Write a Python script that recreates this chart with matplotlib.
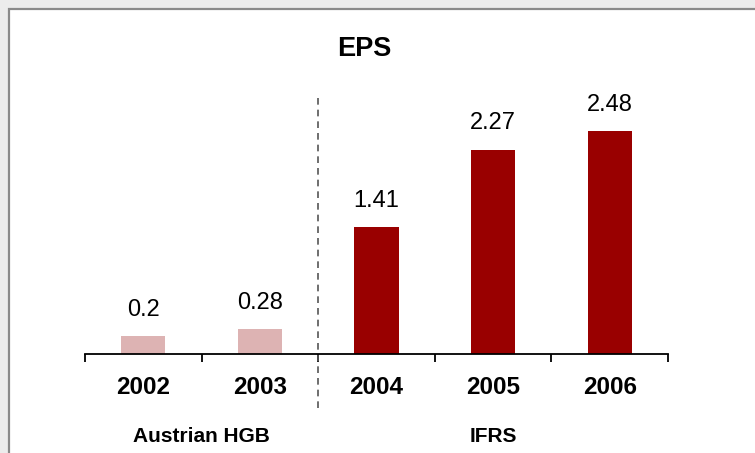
import matplotlib.pyplot as plt
from matplotlib.patches import Rectangle

years = ["2002", "2003", "2004", "2005", "2006"]
eps = [0.2, 0.28, 1.41, 2.27, 2.48]
labels = ["0.2", "0.28", "1.41", "2.27", "2.48"]
bar_colors = ["#ddb3b3", "#ddb3b3", "#990000", "#990000", "#990000"]
groups = ["Austrian HGB", "IFRS"]
group_pos = [0.5, 3]

plt.rcParams["font.family"] = ["Liberation Sans", "DejaVu Sans"]

fig = plt.figure(figsize=(7.55, 4.53), dpi=100, facecolor="#ececec")
# white panel with grey frame
fig.patches.append(Rectangle((9 / 755, -0.05), 1.1, 1 - 9 / 453 + 0.05,
                             transform=fig.transFigure, facecolor="white",
                             edgecolor="#8a8a8a", linewidth=1.6, zorder=-5))

ax = fig.add_axes([85 / 755, 99 / 453, 583 / 755, 270 / 453])
ax.set_facecolor("none")
x = range(len(years))
ax.bar(x, eps, width=0.38, color=bar_colors)
for i in x:
    ax.annotate(labels[i], (i, eps[i]), xytext=(0, 11), textcoords="offset points",
                ha="center", va="bottom", fontsize=17)

ax.set_xlim(-0.5, 4.5)
ax.set_ylim(0, 3)
for s in ["left", "right", "top"]:
    ax.spines[s].set_visible(False)
ax.spines["bottom"].set_linewidth(1.3)
ax.set_yticks([])
ax.set_xticks([-0.5, 0.5, 1.5, 2.5, 3.5, 4.5])
ax.set_xticklabels([])
ax.tick_params(axis="x", which="major", length=6, width=1.3, direction="out")
ax.set_xticks(list(x), years, minor=True)
ax.tick_params(axis="x", which="minor", length=0, pad=16, labelsize=17.5)
for t in ax.get_xticklabels(minor=True):
    t.set_fontweight("bold")

ax.axvline(1.5, ymin=-0.2, ymax=0.955, color="#555555", linewidth=1.2,
           linestyle=(0, (4, 3)), clip_on=False)

for g, p in zip(groups, group_pos):
    ax.text(p, -0.305, g, transform=ax.get_xaxis_transform(), ha="center",
            va="center", fontsize=15, fontweight="bold")

fig.text(364 / 755, 1 - 49 / 453, "EPS", ha="center", va="center",
         fontsize=19.5, fontweight="bold")

fig.savefig("out.png", dpi=100, facecolor=fig.get_facecolor())
